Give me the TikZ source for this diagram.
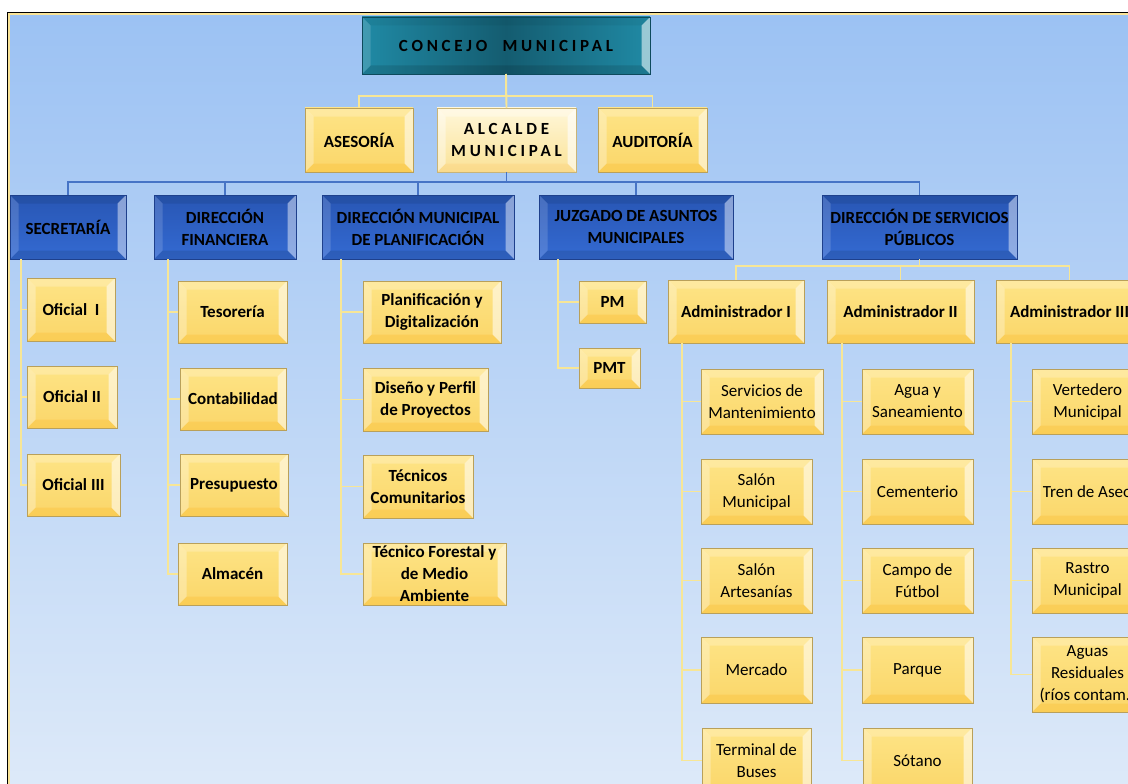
\documentclass[tikz,border=0pt]{standalone}
\usepackage{fontspec}
\setmainfont{Carlito}
\newfontfamily\spacedfont[LetterSpace=22]{Carlito}
\definecolor{bgtop}{RGB}{156,194,243}
\definecolor{bgbot}{RGB}{222,234,249}
\definecolor{framey}{RGB}{250,228,150}
\definecolor{ytop}{RGB}{254,228,134}
\definecolor{ybot}{RGB}{250,214,105}
\definecolor{ybord}{RGB}{185,160,90}
\definecolor{btop}{RGB}{40,86,180}
\definecolor{bbot}{RGB}{52,106,210}
\definecolor{bbord}{RGB}{30,64,140}
\definecolor{tedge}{RGB}{32,138,165}
\definecolor{tmid}{RGB}{20,92,112}
\definecolor{tbord}{RGB}{14,74,92}
\definecolor{ctop}{RGB}{255,247,218}
\definecolor{cbot}{RGB}{250,226,150}
\definecolor{cbord}{RGB}{200,180,120}
\definecolor{lineY}{RGB}{247,230,150}
\definecolor{lineB}{RGB}{70,116,198}
\def\bw{8.5pt}
\tikzset{
  bev/.style n args={4}{path picture={
    \fill[#1] (path picture bounding box.north west) -- (path picture bounding box.north east)
      -- ([xshift=-\bw,yshift=-\bw]path picture bounding box.north east)
      -- ([xshift=\bw,yshift=-\bw]path picture bounding box.north west) -- cycle;
    \fill[#2] (path picture bounding box.south west) -- (path picture bounding box.south east)
      -- ([xshift=-\bw,yshift=\bw]path picture bounding box.south east)
      -- ([xshift=\bw,yshift=\bw]path picture bounding box.south west) -- cycle;
    \fill[#3] (path picture bounding box.north west) -- (path picture bounding box.south west)
      -- ([xshift=\bw,yshift=\bw]path picture bounding box.south west)
      -- ([xshift=\bw,yshift=-\bw]path picture bounding box.north west) -- cycle;
    \fill[#4] (path picture bounding box.north east) -- (path picture bounding box.south east)
      -- ([xshift=-\bw,yshift=\bw]path picture bounding box.south east)
      -- ([xshift=-\bw,yshift=-\bw]path picture bounding box.north east) -- cycle;
  }},
  box/.style={draw, line width=0.8pt, inner sep=0pt, outer sep=0pt, align=center,
    text=black, font=\fontsize{17}{22}\selectfont\bfseries},
  ybox/.style={box, draw=ybord, top color=ytop, bottom color=ybot,
    bev={white,opacity=.22}{orange!70!yellow,opacity=.18}{white,opacity=.3}{white,opacity=.55}},
  ychild/.style={ybox, font=\fontsize{17}{22}\selectfont},
  bbox/.style={box, draw=bbord, top color=btop, bottom color=bbot,
    bev={black,opacity=.08}{black,opacity=.1}{white,opacity=.15}{white,opacity=.45}},
  tbox/.style={box, draw=tbord, left color=tedge, right color=tedge, middle color=tmid,
    bev={black,opacity=.05}{black,opacity=.12}{white,opacity=.15}{white,opacity=.55}},
  cbox/.style={box, draw=cbord, top color=ctop, bottom color=cbot,
    bev={white,opacity=.3}{orange,opacity=.08}{white,opacity=.4}{white,opacity=.6}},
  yl/.style={draw=lineY, line width=1.9pt},
  bl/.style={draw=lineB, line width=1.8pt},
}
\newcommand\orgbox[7]{\node[#6, minimum width={(#4-#2)*1pt}, minimum height={(#5-#3)*1pt}]
  (#1) at ({(#2+#4)/2},{(#3+#5)/2}) {#7};}
\begin{document}
\begin{tikzpicture}[x=1pt,y=-1pt]
\useasboundingbox (0,0) rectangle (1128,784);
\clip (0,0) rectangle (1128,784);
\fill[white] (0,0) rectangle (1128,784);
\fill[black] (6.5,12) rectangle (1140,800);
\fill[framey] (8,13.5) rectangle (1140,800);
\shade[top color=bgtop, bottom color=bgbot] (10,16) rectangle (1140,800);

% top level
\orgbox{cm}{362}{17}{650}{74}{tbox}{\spacedfont\bfseries CONCEJO\ \ MUNICIPAL}
\orgbox{ases}{305}{108}{413}{172}{ybox}{ASESORÍA}
\orgbox{alc}{437}{108}{576}{172}{cbox}{\spacedfont\bfseries ALCALDE\\\spacedfont\bfseries MUNICIPAL}
\orgbox{aud}{598}{108}{707}{172}{ybox}{AUDITORÍA}

% directorates
\orgbox{sec}{10}{195}{126}{259}{bbox}{SECRETARÍA}
\orgbox{fin}{154}{195}{296}{259}{bbox}{DIRECCIÓN\\FINANCIERA}
\orgbox{pla}{322}{195}{514}{259}{bbox}{DIRECCIÓN MUNICIPAL\\DE PLANIFICACIÓN}
\orgbox{juz}{539}{195}{733}{259}{bbox}{JUZGADO DE ASUNTOS\\MUNICIPALES}
\orgbox{dsp}{822}{195}{1017}{259}{bbox}{DIRECCIÓN DE SERVICIOS\\PÚBLICOS}

% secretaria
\orgbox{of1}{27}{278}{115}{341}{ybox}{Oficial\ \ I}
\orgbox{of2}{27}{366}{117}{428}{ybox}{Oficial II}
\orgbox{of3}{27}{454}{120}{516}{ybox}{Oficial III}

% financiera
\orgbox{tes}{178}{281}{287}{343}{ybox}{Tesorería}
\orgbox{con}{180}{368}{286}{430}{ybox}{Contabilidad}
\orgbox{pre}{180}{454}{288}{516}{ybox}{Presupuesto}
\orgbox{alm}{178}{543}{287}{605}{ybox}{Almacén}

% planificacion
\orgbox{pd}{363}{281}{501}{343}{ybox}{Planificación y\\Digitalización}
\orgbox{dp}{363}{368}{488}{431}{ybox}{Diseño y Perfil\\de Proyectos}
\orgbox{tc}{363}{455}{473}{518}{ybox}{Técnicos\\Comunitarios}
\orgbox{tf}{363}{543}{506}{605}{ybox}{Técnico Forestal y\\de Medio\\Ambiente}

% juzgado
\orgbox{pm}{579}{281}{646}{323}{ybox}{PM}
\orgbox{pmt}{579}{348}{640}{388}{ybox}{PMT}

% administradores
\orgbox{a1}{668}{280}{804}{343}{ybox}{Administrador I}
\orgbox{a2}{827}{280}{974}{343}{ybox}{Administrador II}
\orgbox{a3}{996}{280}{1143}{343}{ybox}{Administrador III}

\orgbox{sm}{701}{369}{823}{434}{ychild}{Servicios de\\Mantenimiento}
\orgbox{salm}{701}{459}{812}{524}{ychild}{Salón\\Municipal}
\orgbox{sala}{701}{548}{812}{613}{ychild}{Salón\\Artesanías}
\orgbox{mer}{701}{637}{812}{703}{ychild}{Mercado}
\orgbox{ter}{702}{728}{811}{793}{ychild}{Terminal de\\Buses}

\orgbox{agua}{862}{369}{973}{434}{ychild}{Agua y\\Saneamiento}
\orgbox{cem}{862}{459}{973}{524}{ychild}{Cementerio}
\orgbox{cam}{862}{548}{973}{613}{ychild}{Campo de\\Fútbol}
\orgbox{par}{862}{637}{973}{703}{ychild}{Parque}
\orgbox{sot}{863}{728}{972}{793}{ychild}{Sótano}

\orgbox{ver}{1032}{369}{1143}{434}{ychild}{Vertedero\\Municipal}
\orgbox{tren}{1032}{459}{1143}{524}{ychild}{Tren de Aseo}
\orgbox{ras}{1032}{548}{1143}{613}{ychild}{Rastro\\Municipal}
\orgbox{agr}{1032}{637}{1143}{712}{ychild}{Aguas\\Residuales\\(ríos contam.)}

% connectors: top
\draw[yl] (cm.south) -- (alc.north);
\draw[yl] (cm.south) -- ++(0,22) -| (ases.north);
\draw[yl] (cm.south) -- ++(0,22) -| (aud.north);
% blue bus
\foreach \n in {sec,fin,pla,juz,dsp} \draw[bl] (alc.south) -- ++(0,10) -| (\n.north);
% columns
\coordinate (secL) at ([xshift=11pt]sec.south west);
\foreach \n in {of1,of2,of3} \draw[yl] (secL) |- (\n.west);
\coordinate (finL) at ([xshift=14pt]fin.south west);
\foreach \n in {tes,con,pre,alm} \draw[yl] (finL) |- (\n.west);
\coordinate (plaL) at ([xshift=19pt]pla.south west);
\foreach \n in {pd,dp,tc,tf} \draw[yl] (plaL) |- (\n.west);
\coordinate (juzL) at ([xshift=19pt]juz.south west);
\foreach \n in {pm,pmt} \draw[yl] (juzL) |- (\n.west);
\foreach \n in {a1,a2,a3} \draw[yl] (dsp.south) -- ++(0,7) -| (\n.north);
\coordinate (a1L) at ([xshift=14pt]a1.south west);
\foreach \n in {sm,salm,sala,mer,ter} \draw[yl] (a1L) |- (\n.west);
\coordinate (a2L) at ([xshift=15pt]a2.south west);
\foreach \n in {agua,cem,cam,par,sot} \draw[yl] (a2L) |- (\n.west);
\coordinate (a3L) at ([xshift=15pt]a3.south west);
\foreach \n in {ver,tren,ras,agr} \draw[yl] (a3L) |- (\n.west);
\end{tikzpicture}
\end{document}
